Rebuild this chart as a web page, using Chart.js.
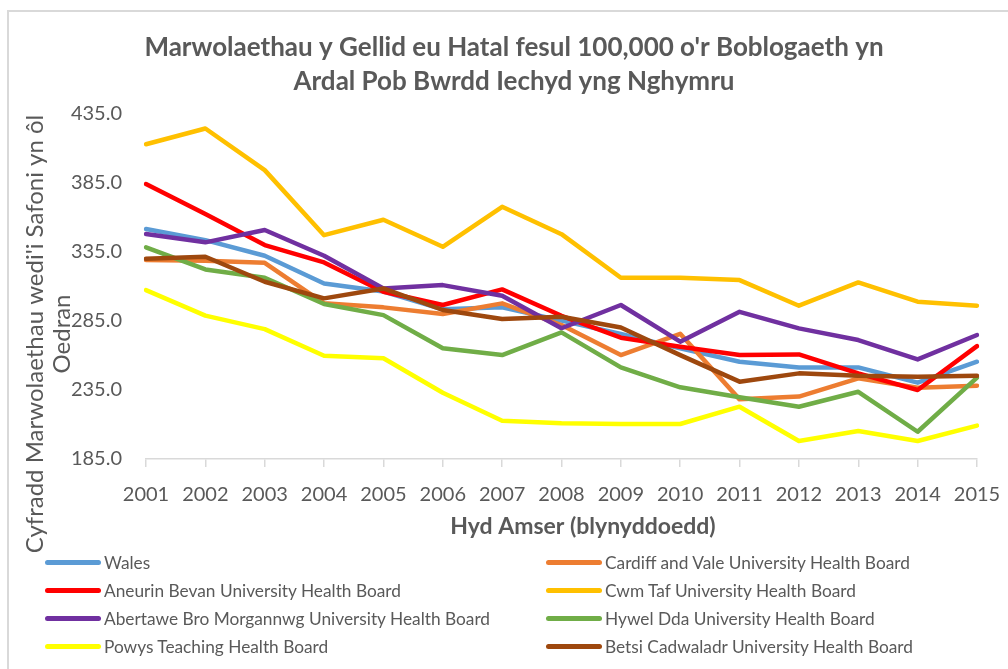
<!DOCTYPE html>
<html>
<head>
<meta charset="utf-8">
<script src="https://cdn.jsdelivr.net/npm/chart.js@4.4.0/dist/chart.umd.min.js"></script>
<style>
  body { margin: 0; background: #fff; }
  #wrap { position: relative; width: 1008px; height: 669px; overflow: hidden; font-family: Lato, sans-serif; }
  #frame { position: absolute; left: 7px; top: 10px; width: 1100px; height: 700px;
           border-top: 2px solid #d9d9d9; border-left: 2px solid #d9d9d9; }
  #chart { position: absolute; left: 0; top: 0; }
  #legend { position: absolute; left: 45px; top: 548px; display: grid;
            grid-template-columns: 501px auto; grid-auto-rows: 28px; }
  .item { display: flex; align-items: center; font-size: 17.3px; color: #595959; white-space: nowrap; }
  .swatch { width: 56px; height: 5px; border-radius: 3px; margin-right: 3px; }
</style>
</head>
<body>
<div id="wrap">
  <div id="frame"></div>
  <canvas id="chart" width="1008" height="669"></canvas>
  <div id="legend"></div>
</div>

<script>
  // values
  var years = ["2001","2002","2003","2004","2005","2006","2007","2008","2009","2010","2011","2012","2013","2014","2015"];

  var wales        = [351.2, 343.2, 331.9, 311.9, 306.0, 293.2, 294.6, 285.0, 275.3, 265.0, 255.3, 251.2, 251.2, 240.2, 255.3];
  var cardiffVale  = [328.8, 328.3, 326.8, 297.5, 294.6, 289.8, 297.5, 281.8, 260.1, 275.5, 228.1, 230.1, 243.3, 236.5, 238.0];
  var aneurinBevan = [383.7, 362.0, 339.6, 327.1, 305.9, 296.3, 307.6, 288.5, 272.7, 266.1, 260.1, 260.6, 246.9, 234.9, 266.6];
  var cwmTaf       = [412.5, 423.9, 393.8, 346.8, 357.9, 338.4, 367.3, 347.5, 316.0, 316.0, 314.3, 295.8, 312.6, 298.7, 295.8];
  var abertawe     = [347.6, 341.6, 350.5, 331.9, 308.3, 310.7, 303.0, 279.5, 296.3, 269.8, 291.4, 279.4, 271.0, 257.0, 274.6];
  var hywelDda     = [338.0, 322.0, 316.0, 297.0, 289.0, 265.0, 260.1, 276.5, 251.2, 236.8, 229.6, 222.8, 233.6, 204.7, 243.8];
  var powys        = [307.1, 288.6, 278.9, 259.6, 257.8, 232.9, 212.7, 210.8, 210.3, 210.3, 222.8, 198.0, 205.2, 198.0, 209.1];
  var betsi        = [329.7, 331.2, 313.1, 301.1, 308.3, 292.7, 286.2, 287.8, 280.1, 260.1, 240.9, 246.9, 245.2, 244.5, 245.2];

  var seriesNames = [
    "Wales",
    "Cardiff and Vale University Health Board",
    "Aneurin Bevan University Health Board",
    "Cwm Taf University Health Board",
    "Abertawe Bro Morgannwg University Health Board",
    "Hywel Dda University Health Board",
    "Powys Teaching Health Board",
    "Betsi Cadwaladr University Health Board"
  ];
  var seriesData = [wales, cardiffVale, aneurinBevan, cwmTaf, abertawe, hywelDda, powys, betsi];
  var seriesColors = ["#5B9BD5", "#ED7D31", "#FF0000", "#FFC000", "#7030A0", "#70AD47", "#FFFF00", "#9E480E"];

  var yTicks = { min: 185, max: 435, step: 50 };

  var grey = "#595959";
  var axisGrey = "#d9d9d9";

  var datasets = seriesData.map(function (d, i) {
    return {
      label: seriesNames[i],
      data: d,
      borderColor: seriesColors[i],
      backgroundColor: seriesColors[i],
      borderWidth: 4.5,
      pointRadius: 0,
      tension: 0,
      fill: false,
      borderJoinStyle: "round",
      borderCapStyle: "round",
      // excel draws the last series on top
      order: seriesData.length - i
    };
  });

  // axis titles drawn by hand so they sit where excel put them
  var axisTitlePlugin = {
    id: "axisTitles",
    afterDraw: function (chart) {
      var ctx = chart.ctx;
      var lines = ["Cyfradd Marwolaethau wedi'i Safoni yn ôl", "Oedran"];
      var xs = [35, 62];
      ctx.save();
      ctx.fillStyle = grey;
      ctx.textAlign = "center";
      ctx.textBaseline = "middle";
      ctx.font = "24px Lato";
      for (var i = 0; i < lines.length; i++) {
        ctx.save();
        ctx.translate(xs[i], 334);
        ctx.rotate(-Math.PI / 2);
        ctx.fillText(lines[i], 0, 0);
        ctx.restore();
      }
      ctx.font = "bold 23px Lato";
      ctx.fillText("Hyd Amser (blynyddoedd)", 583, 527);
      ctx.restore();
    }
  };

  var chart = new Chart(document.getElementById("chart"), {
    type: "line",
    data: { labels: years, datasets: datasets },
    plugins: [axisTitlePlugin],
    options: {
      responsive: false,
      animation: false,
      layout: { padding: { left: 51, right: 31, top: 10, bottom: 146 } },
      plugins: {
        legend: { display: false },
        tooltip: { enabled: false },
        title: {
          display: true,
          text: ["Marwolaethau y Gellid eu Hatal fesul 100,000 o'r Boblogaeth yn",
                 "Ardal Pob Bwrdd Iechyd yng Nghymru"],
          color: grey,
          font: { family: "Lato", size: 26, weight: "bold", lineHeight: 1.31 },
          padding: { top: 21, bottom: 14 }
        }
      },
      scales: {
        x: {
          offset: false,
          grid: { display: true, drawOnChartArea: false, drawTicks: true, tickLength: 8, color: axisGrey, lineWidth: 1.5 },
          border: { display: true, color: axisGrey, width: 1.5 },
          // tall line height instead of tick padding, so the last label doesn't squeeze the plot
          ticks: { color: grey, font: { family: "Lato", size: 20, lineHeight: 2.8 }, padding: 0, maxRotation: 0, autoSkip: false }
        },
        y: {
          min: yTicks.min,
          max: yTicks.max,
          grid: { display: false, drawTicks: false },
          border: { display: false },
          ticks: {
            stepSize: yTicks.step,
            color: grey,
            font: { family: "Lato", size: 20 },
            padding: 24,
            callback: function (v) { return v.toFixed(1); }
          },
          afterFit: function (scale) { scale.width = 95; }
        }
      }
    }
  });

  // legend in two columns, built from the same arrays
  var legend = document.getElementById("legend");
  seriesNames.forEach(function (name, i) {
    var item = document.createElement("div");
    item.className = "item";
    var sw = document.createElement("span");
    sw.className = "swatch";
    sw.style.background = seriesColors[i];
    var txt = document.createElement("span");
    txt.textContent = name;
    item.appendChild(sw);
    item.appendChild(txt);
    legend.appendChild(item);
  });
</script>
</body>
</html>
